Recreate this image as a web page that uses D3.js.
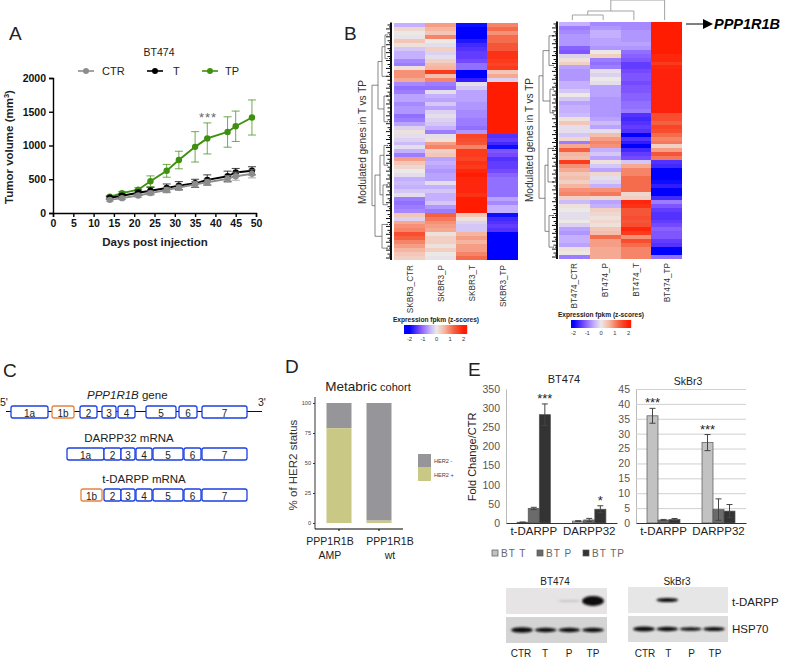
<!DOCTYPE html>
<html>
<head>
<meta charset="utf-8">
<script src="https://cdn.jsdelivr.net/npm/d3@7"></script>
<style>
body { margin: 0; background: #fff; }
svg { display: block; font-family: "Liberation Sans", Arial, sans-serif; fill: #222; }
</style>
</head>
<body>
<svg></svg>
<script>
// panel A, tumor growth
let days = [14, 17, 21, 24, 28, 31, 35, 38, 43, 45, 49]
let ctrVolume = [195, 220, 260, 295, 340, 375, 425, 455, 505, 545, 580]
let ctrError = [20, 20, 25, 30, 40, 40, 40, 45, 50, 60, 60]
let tVolume = [225, 255, 300, 330, 370, 405, 440, 490, 545, 600, 625]
let tError = [20, 25, 40, 50, 60, 60, 60, 75, 75, 60, 60]
let tpVolume = [240, 295, 345, 470, 625, 785, 980, 1105, 1200, 1285, 1415]
let tpError = [20, 20, 30, 80, 95, 130, 225, 230, 225, 225, 260]

// panel B, z-scores per gene row
let skbrColumns = ['SKBR3_CTR', 'SKBR3_P', 'SKBR3_T', 'SKBR3_TP']
let skbrCtr = [-0.5, 0.2, 0, -0.05, 0.4, 0.1, -0.3, -0.5, -0.5, -0.8, -0.9, 0.1, 0.9, 0.9, 0.7, -0.8, -1, -0.9, -0.6, -0.6, -0.8, -0.7, -0.7, -1, -0.9, -0.6, -0.2, 0.1, -0.1, -0.2, -0.4, -0.1, -0.5, -0.9, 0.8, 0.4, 0.2, 0, -0.1, -0.5, -0.4, -0.5, -0.3, -0.1, -0.9, -1, -0.9, -0.8, 0.4, -0.2, 0.7, 0.9, 1, 1.5, 1.3, 1, 0.8, 0.6, 0.4, 0.3]
let skbrP = [0.8, 0.6, 0.4, 1, 0, -0.1, 0.3, -0.2, -0.1, 0.3, 0.5, 0.6, 1.7, 0.5, 1, -0.9, -1, -0.1, -0.5, -0.6, -0.3, -0.6, -0.2, -0.1, -0.2, -0.3, -0.5, -0.9, -0.1, 0.1, 0.8, 1, 0.3, 0.4, -0.6, -0.5, -0.6, -0.7, -0.6, -0.6, -0.1, -0.5, -0.3, -0.5, -0.5, -0.3, -0.7, -0.9, 1.3, 1.1, 0.9, 0.8, 0.7, 0.1, 0.3, 0.3, 0.1, 0.3, 0, -0.05]
let skbrT = [-1.9, -2, -2, -2, -1.8, -1.6, -1.5, -1.4, -1.4, -1.3, -1, -1, -2, -2, -1.7, -0.1, -0.3, -0.6, -0.6, -0.6, -0.7, -0.7, -0.8, -0.8, -0.9, -0.9, -1, -0.7, 1.6, 1.5, 1.4, 1, 1.7, 1.7, 1.6, 1.8, 1.7, 1.9, 2, 1.9, 1.9, 1.9, 1.9, 1.8, 2, 2, 2, 2, 0.4, 0.1, -0.2, -0.3, -0.3, 0.6, 0.8, 0.6, 0.8, 0.8, 1, 1.2]
let skbrTp = [1, 1.2, 0.9, 1.2, 1.2, 1.4, 1.4, 1.8, 1.8, 1.7, 1.6, 1.7, 0.4, 0.7, -0.2, 2, 2, 2, 2, 2, 2, 2, 2, 2, 2, 2, 2, 2, -1.5, -1.4, -1.6, -1.9, -1.2, -1.3, -1.5, -1.4, -1.4, -1.3, -1.1, -1, -1, -1, -1, -1, -0.6, -0.8, -0.5, -0.5, -1.9, -1.6, -1.5, -1.4, -1.5, -2, -2, -2, -2, -2, -2, -2]
let btColumns = ['BT474_CTR', 'BT474_P', 'BT474_T', 'BT474_TP']
let btCtr = [-0.5, -0.9, -0.8, -0.7, -0.7, -0.7, -1.1, -1.2, -0.2, 0.1, 0.3, -0.6, -0.7, -0.7, -0.7, -0.5, -0.5, -0.3, 0, -0.3, -0.6, -0.5, -0.5, -0.4, 0.1, 0.4, -0.1, -0.1, -0.3, 0.2, -0.9, 0.7, 1.3, 0.6, 0.5, 1.7, 0.9, 0.7, 0.4, 0.5, 0.3, 0.6, 0.9, 1, 0.3, -0.4, 0.1, 0, -0.1, -0.1, 0, -0.2, -0.6, -0.7, -0.5, -0.5, -0.6, 0.1, 0, -0.9]
let btP = [-0.8, -0.7, -0.5, -0.5, -0.6, -0.6, -0.7, 0, 0.3, -0.9, -1, -0.9, -0.1, -0.2, 0, -0.1, -0.6, -0.6, -0.6, -0.7, -0.7, -0.7, -0.7, -0.7, -0.6, -0.4, -0.6, -0.1, 0.5, 0.8, 1, 0.9, -0.5, -0.3, -0.6, 0.1, -0.3, -0.6, 0.2, -0.1, -0.2, -0.5, 0.9, 1.1, 0.2, -0.6, -0.5, 0.3, 0.2, 0.1, 0.2, 0.1, 0.4, 0.5, 1.2, 0.8, 0.8, 0.7, 0.7, 0.7]
let btT = [-0.8, -0.8, -0.7, -0.7, -0.7, -0.6, -0.7, -1, -1.1, -1.2, -1.4, -1.4, -1.3, -1.2, -1.2, -1.3, -1.2, -1.2, -1.1, -1.1, -1, -1, -0.9, -1.5, -1.6, -1.5, -1.4, -1.5, -2, -1.5, -1.7, -2, -1.6, -1.4, -1.3, -0.3, 0.7, 1, 1, 1.2, 1.2, 1.2, 1.2, 0.2, 0.3, 1.9, 1.8, 1.4, 1.4, 1.5, 1.4, 1.5, 1.9, 1.7, 0.9, 1.5, 1.2, 1, 1, 1]
let btTp = [2, 2, 2, 2, 2, 2, 2, 2, 1.9, 1.9, 1.7, 1.9, 1.95, 1.95, 1.95, 1.95, 1.95, 1.95, 1.95, 1.95, 1.95, 1.95, 1.95, 1.5, 1.5, 1.3, 1.6, 1.5, 1.2, 1, 1.1, 0.3, 0.8, 1.4, 1.1, -1.5, -1.6, -2, -2, -2, -1.9, -1.7, -2, -2, -1.6, -0.9, -1.2, -1.4, -1.5, -1.5, -1.4, -1.3, -1.1, -1.2, -1.2, -1.4, -1.5, -2, -2, -1]
let zStops = [-2, -1.3, -0.5, 0, 0.6, 1.3, 2]
let zColors = ['#0000ff', '#7448ff', '#c4b0ff', '#ece8e6', '#f6b5a0', '#f56040', '#ff1e05']
let zTicks = [-2, -1, 0, 1, 2]
// dendrograms: [merge height, child, child], a bare number is a run of rows
let skbrTree = [20, [14, [10, [7, 6, 6], 3], [8, [5, 7], [5, 6]]], [17, [12, [8, [5, 6], [5, 4]], [9, [6, 6], 4]], [10, [6, 6], [6, 6]]]]
let btTree = [19, [15, [9, [6, 7], [5, 8]], [8, [5, 4], [6, 8]]], [13, [10, [6, 10], [5, 7]], [9, [6, 10], [5, 6]]]]
let btColumnTree = [20, [9, [5, 'BT474_CTR', 'BT474_P'], 'BT474_T'], 'BT474_TP']

// panel C, exon extents along the schematic
let geneExons = [['1a', 11, 48, 0], ['1b', 52, 74, 1], ['2', 80, 97, 0], ['3', 102, 116, 0], ['4', 118, 135, 0], ['5', 146, 176, 0], ['6', 179, 197, 0], ['7', 202, 247, 0]]
let darppExons = [['1a', 67, 104, 0], ['2', 104, 121, 0], ['3', 121, 135, 0], ['4', 136, 152, 0], ['5', 153, 183, 0], ['6', 184, 201, 0], ['7', 202, 247, 0]]
let tDarppExons = [['1b', 81, 102, 1], ['2', 104, 121, 0], ['3', 121, 135, 0], ['4', 136, 152, 0], ['5', 153, 183, 0], ['6', 184, 201, 0], ['7', 202, 247, 0]]

// panel D
let cohortGroups = ['AMP', 'wt']
let her2Positive = [79, 2]
let her2Negative = [21, 98]

// panel E
let qpcrGroups = ['t-DARPP', 'DARPP32']
let qpcrSeries = ['T', 'P', 'TP']
let qpcrLegend = ['BT T', 'BT P', 'BT TP']
let btFold = [[2, 38, 283], [5, 8, 36]]
let btFoldError = [[0.5, 3, 28], [1, 4, 9]]
let skFold = [[36, 1, 1.2], [27, 4.5, 4]]
let skFoldError = [[2.5, 0.2, 0.3], [2.7, 3.6, 2.2]]

// blots, band strength per lane
let lanes = ['CTR', 'T', 'P', 'TP']
let btTDarpp = [0, 0, 1.2, 10]
let btHsp = [5.5, 4.5, 4.5, 4.5]
let skTDarpp = [0, 4, 0, 0]
let skHsp = [5, 4.5, 3.5, 4]

let width = 785
let height = 660
let svg = d3.select('svg')
    .attr('width', width)
    .attr('height', height)
    .attr('viewBox', [0, 0, width, height])

let defs = svg.append('defs')
defs.append('filter').attr('id', 'soft').append('feGaussianBlur').attr('stdDeviation', 0.45)
defs.append('filter').attr('id', 'band')
    .attr('x', '-30%').attr('y', '-100%').attr('width', '160%').attr('height', '300%')
    .append('feGaussianBlur').attr('stdDeviation', 0.9)

function label(x, y, text, size, extra) {
    return svg.append('text')
        .attr('x', x).attr('y', y)
        .attr('font-size', size)
        .attr('text-anchor', (extra && extra.anchor) || 'middle')
        .attr('font-weight', (extra && extra.weight) || null)
        .attr('fill', (extra && extra.fill) || '#222')
        .attr('transform', extra && extra.rotate ? `rotate(-90 ${x} ${y})` : null)
        .text(text)
}

// panel letters
label(9, 40, 'A', 19, { anchor: 'start' })
label(344, 40, 'B', 19, { anchor: 'start' })
label(3, 377, 'C', 19, { anchor: 'start' })
label(285, 373, 'D', 19, { anchor: 'start' })
label(468, 376, 'E', 19, { anchor: 'start' })

// --- A ---
let growthX = d3.scaleLinear().domain([0, 50]).range([53, 256])
let growthY = d3.scaleLinear().domain([0, 2000]).range([213, 78])
let growthLine = d3.line().x(d => growthX(d[0])).y(d => growthY(d[1]))
let growthSeries = [
    { name: 'TP', color: '#3f8f10', values: tpVolume, errors: tpError },
    { name: 'T', color: '#000', values: tVolume, errors: tError },
    { name: 'CTR', color: '#8c8c8c', values: ctrVolume, errors: ctrError }
]
let growthAxisX = svg.append('g')
    .attr('transform', 'translate(0,213)')
    .call(d3.axisBottom(growthX).tickValues(d3.range(0, 51, 5)).tickSize(4).tickPadding(3))
let growthAxisY = svg.append('g')
    .attr('transform', 'translate(53,0)')
    .call(d3.axisLeft(growthY).tickValues(d3.range(0, 2001, 500)).tickSize(4).tickPadding(3).tickFormat(d3.format('d')))
;[growthAxisX, growthAxisY].forEach(axis => {
    axis.selectAll('path, line').attr('stroke', '#000').attr('stroke-width', 1.4)
    axis.selectAll('text').attr('font-size', 10.5).attr('font-weight', 'bold').attr('font-family', 'Liberation Sans').attr('fill', '#111')
})
growthSeries.forEach(s => {
    let g = svg.append('g')
    let rows = days.map((d, i) => [d, s.values[i], s.errors[i]])
    g.selectAll('.err').data(rows).enter().append('path')
        .attr('d', d => `M${growthX(d[0]) - 4},${growthY(d[1] + d[2])}h8M${growthX(d[0])},${growthY(d[1] + d[2])}V${growthY(d[1] - d[2])}M${growthX(d[0]) - 4},${growthY(d[1] - d[2])}h8`)
        .attr('stroke', s.color).attr('stroke-width', 1).attr('fill', 'none').attr('opacity', 0.75)
    g.append('path').attr('d', growthLine(rows))
        .attr('stroke', s.color).attr('stroke-width', 1.9).attr('fill', 'none')
    g.selectAll('circle').data(rows).enter().append('circle')
        .attr('cx', d => growthX(d[0])).attr('cy', d => growthY(d[1]))
        .attr('r', 3.2).attr('fill', s.color)
})
label(159, 56, 'BT474', 10.5)
let growthLegend = [['CTR', '#8c8c8c', 78, 102], ['T', '#000', 147, 173], ['TP', '#3f8f10', 202, 225]]
growthLegend.forEach(d => {
    svg.append('line').attr('x1', d[2]).attr('x2', d[2] + 16).attr('y1', 71).attr('y2', 71)
        .attr('stroke', d[1]).attr('stroke-width', 1.6)
    svg.append('circle').attr('cx', d[2] + 8).attr('cy', 71).attr('r', 3).attr('fill', d[1])
    label(d[3], 75, d[0], 11, { anchor: 'start' })
})
label(208, 122, '***', 13, { fill: '#666' }).attr('letter-spacing', 1)
label(155, 246, 'Days post injection', 11.5, { weight: 'bold' })
let tumorLabel = label(13, 147, 'Tumor volume (mm', 11.5, { weight: 'bold', rotate: true })
tumorLabel.append('tspan').attr('font-size', 7.5).attr('dy', -4).text('3')
tumorLabel.append('tspan').attr('dy', 4).text(')')

// --- B ---
function drawDendrogram(tree, rowY, x0, x1, maxH) {
    let xAt = d3.scaleLinear().domain([0, maxH]).range([x0, x1])
    let root = d3.hierarchy(tree, d => Array.isArray(d) ? d.slice(1) : null)
    let offset = 0
    root.leaves().forEach(node => {
        node.first = offset
        offset += node.data
        node.rowMid = (rowY(node.first) + rowY(offset - 1) + rowY.bandwidth()) / 2
        node.h = 4
    })
    root.eachAfter(node => {
        if (node.children) {
            node.rowMid = (node.children[0].rowMid + node.children[node.children.length - 1].rowMid) / 2
            node.h = node.data[0]
        }
    })
    let g = svg.append('g').attr('fill', 'none')
    g.selectAll('path.branch').data(root.descendants().filter(d => d.children)).enter()
        .append('path').attr('class', 'branch')
        .attr('stroke', '#555').attr('stroke-width', 0.7)
        .attr('d', d => {
            let a = d.children[0]
            let b = d.children[d.children.length - 1]
            return `M${xAt(a.h)},${a.rowMid}H${xAt(d.h)}V${b.rowMid}H${xAt(b.h)}`
        })
    let comb = [1, 3.5, 2, 5]
    root.leaves().forEach(node => {
        let top = rowY(node.first)
        let bottom = rowY(node.first + node.data - 1) + rowY.bandwidth()
        g.append('path').attr('stroke', '#111').attr('stroke-width', 2)
            .attr('d', `M${xAt(1)},${top}V${bottom}`)
        d3.range(node.first, node.first + node.data, 0.5).forEach((r, i) => {
            let y = rowY(Math.floor(r)) + (r % 1) * rowY.bandwidth()
            g.append('path').attr('stroke', '#111').attr('stroke-width', 1)
                .attr('d', `M${xAt(1 + comb[i % 4])},${y}H${x0}`)
        })
    })
}

let zColor = d3.scaleLinear().domain(zStops).range(zColors)

function drawHeatmap(columns, values, x0, x1, y0, y1, tree, treeX0, treeX1, treeMax) {
    let colX = d3.scaleBand().domain(columns).range([x0, x1])
    let rowY = d3.scaleBand().domain(d3.range(values[0].length)).range([y0, y1])
    let g = svg.append('g').attr('filter', 'url(#soft)')
    columns.forEach((c, i) => {
        g.selectAll(null).data(values[i]).enter().append('rect')
            .attr('x', colX(c)).attr('width', colX.bandwidth())
            .attr('y', (d, r) => rowY(r)).attr('height', rowY.bandwidth())
            .attr('fill', d => zColor(d))
            .attr('shape-rendering', 'crispEdges')
    })
    drawDendrogram(tree, rowY, treeX0, treeX1, treeMax)
    return colX
}

function drawZLegend(titleX, titleY, tickX0, tickX1, barX0, barX1, barY, barH) {
    let x = d3.scaleLinear().domain([-2, 2]).range([tickX0, tickX1])
    label(titleX, titleY, 'Expression fpkm (z-scores)', 6.6, { weight: 'bold' })
    let steps = d3.range(barX0, barX1)
    svg.append('g').selectAll('rect').data(steps).enter().append('rect')
        .attr('x', d => d).attr('y', barY).attr('width', 1.2).attr('height', barH)
        .attr('fill', d => zColor(Math.max(-2, Math.min(2, x.invert(d)))))
    svg.append('g')
        .attr('transform', `translate(0,${barY + barH})`)
        .call(d3.axisBottom(x).tickValues(zTicks).tickSize(0).tickPadding(3).tickFormat(d => d))
        .call(a => a.select('.domain').remove())
        .call(a => a.selectAll('text').attr('font-size', 5.8).attr('font-family', 'Liberation Sans').attr('fill', '#333'))
}

let skbrX = drawHeatmap(skbrColumns, [skbrCtr, skbrP, skbrT, skbrTp], 394, 518, 23, 260, skbrTree, 392, 372, 20)
let btX = drawHeatmap(btColumns, [btCtr, btP, btT, btTp], 559, 682, 22, 259, btTree, 558, 539, 19)
skbrColumns.forEach(c => {
    label(skbrX(c) + skbrX.bandwidth() / 2 + 3, 265, c, 8.2, { anchor: 'end', rotate: true, fill: '#333' })
})
btColumns.forEach(c => {
    label(btX(c) + btX.bandwidth() / 2 + 3, 263, c, 8.2, { anchor: 'end', rotate: true, fill: '#333' })
})
label(366, 142, 'Modulated genes in T vs TP', 10, { rotate: true, fill: '#333' })
label(533, 140, 'Modulated genes in T vs TP', 10, { rotate: true, fill: '#333' })
drawZLegend(436, 322, 409, 463, 404, 467, 325, 9)
drawZLegend(601, 317, 573, 628, 571, 631, 320, 8)

// column dendrogram over BT474
let columnRoot = d3.hierarchy(btColumnTree, d => Array.isArray(d) ? d.slice(1) : null)
let columnY = d3.scaleLinear().domain([0, 20]).range([20, 0])
columnRoot.eachAfter(node => {
    if (node.children) {
        node.mid = (node.children[0].mid + node.children[1].mid) / 2
        node.h = node.data[0]
    } else {
        node.mid = btX(node.data) + btX.bandwidth() / 2 - 2
        node.h = 0
    }
})
svg.append('g').selectAll('path').data(columnRoot.descendants().filter(d => d.children)).enter()
    .append('path')
    .attr('fill', 'none').attr('stroke', '#999').attr('stroke-width', 0.9)
    .attr('d', d => {
        let [a, b] = d.children
        return `M${a.mid},${columnY(a.h)}V${columnY(d.h)}H${b.mid}V${columnY(b.h)}`
    })
svg.append('path').attr('d', 'M686,24H704').attr('stroke', '#000').attr('stroke-width', 1)
svg.append('path').attr('d', 'M703,19L713,24L703,29Z').attr('fill', '#000')
label(714, 29, 'PPP1R1B', 14.5, { anchor: 'start', weight: 'bold' }).attr('font-style', 'italic').attr('fill', '#000')

// --- C ---
let geneX = d3.scaleLinear().domain([0, 262]).range([0, 262])
function drawExons(exons, top) {
    let g = svg.append('g')
    g.selectAll('rect').data(exons).enter().append('rect')
        .attr('x', d => geneX(d[1])).attr('width', d => geneX(d[2]) - geneX(d[1]))
        .attr('y', top).attr('height', 12).attr('rx', 2)
        .attr('fill', '#fff')
        .attr('stroke', d => d[3] ? '#e8823c' : '#1c3fe0').attr('stroke-width', 1.3)
    g.selectAll('text').data(exons).enter().append('text')
        .attr('x', d => (geneX(d[1]) + geneX(d[2])) / 2).attr('y', top + 10.5)
        .attr('text-anchor', 'middle').attr('font-size', 10).attr('fill', '#222')
        .text(d => d[0])
}
svg.append('line').attr('x1', geneX(6)).attr('x2', geneX(262)).attr('y1', 411.5).attr('y2', 411.5)
    .attr('stroke', '#111').attr('stroke-width', 1.2)
drawExons(geneExons, 406)
drawExons(darppExons, 448)
drawExons(tDarppExons, 489)
let geneTitle = label(87, 399, null, 11.5, { anchor: 'start' })
geneTitle.append('tspan').attr('font-style', 'italic').text('PPP1R1B')
geneTitle.append('tspan').text(' gene')
label(129, 442, 'DARPP32 mRNA', 11.5)
label(144, 483, 't-DARPP mRNA', 11.5)
label(0, 406, "5'", 10.5, { anchor: 'start' })
label(258, 406, "3'", 10.5, { anchor: 'start' })

// --- D ---
let cohortX = d3.scaleBand().domain(cohortGroups).range([315, 403]).paddingInner(0.375).paddingOuter(0.2875)
let cohortY = d3.scaleLinear().domain([0, 100]).range([523, 403])
cohortGroups.forEach((c, i) => {
    svg.append('rect').attr('x', cohortX(c)).attr('width', cohortX.bandwidth())
        .attr('y', cohortY(her2Positive[i] + her2Negative[i]))
        .attr('height', cohortY(her2Positive[i]) - cohortY(100))
        .attr('fill', '#96969a')
    svg.append('rect').attr('x', cohortX(c)).attr('width', cohortX.bandwidth())
        .attr('y', cohortY(her2Positive[i]))
        .attr('height', cohortY(0) - cohortY(her2Positive[i]))
        .attr('fill', '#c9c884')
})
let cohortAxisY = svg.append('g').attr('transform', 'translate(315,0)')
    .call(d3.axisLeft(cohortY).tickValues([0, 25, 50, 75, 100]).tickSize(2).tickPadding(2))
cohortAxisY.select('.domain').attr('d', 'M0,397V529')
cohortAxisY.selectAll('text').attr('font-size', 5.6).attr('font-family', 'Liberation Sans').attr('fill', '#444')
svg.append('g').attr('transform', 'translate(0,529)')
    .call(d3.axisBottom(cohortX).tickSize(2).tickFormat(''))
    .call(a => a.select('.domain').attr('d', 'M315,0H403'))
cohortAxisY.selectAll('path, line').attr('stroke', '#333')
let cohortTitle = label(368, 391, 'Metabric', 13.5)
cohortTitle.append('tspan').attr('font-size', 11).text(' cohort')
// the names sit wider apart than the bars
cohortGroups.forEach((c, i) => {
    let nudge = i === 0 ? -9 : 11
    label(cohortX(c) + cohortX.bandwidth() / 2 + nudge, 545, 'PPP1R1B', 10.5)
    label(cohortX(c) + cohortX.bandwidth() / 2 + nudge, 559, c, 10.5)
})
label(297, 465, '% of HER2 status', 11.5, { rotate: true, fill: '#333' })
svg.append('rect').attr('x', 418).attr('y', 454).attr('width', 13).attr('height', 13).attr('fill', '#96969a')
svg.append('rect').attr('x', 418).attr('y', 467).attr('width', 13).attr('height', 14).attr('fill', '#c9c884')
label(434, 463, 'HER2 -', 5.6, { anchor: 'start', fill: '#444' })
label(434, 477, 'HER2 +', 5.6, { anchor: 'start', fill: '#444' })

// --- E ---
let seriesColor = d3.scaleOrdinal().domain(qpcrSeries).range(['#c2c2c2', '#6b6b6b', '#333'])

function drawFoldChart(x0, x1, yMax, tickStep, fold, errors, stars, grid) {
    let groupX = d3.scaleBand().domain(qpcrGroups).range([x0, x1])
    let barX = d3.scaleBand().domain(qpcrSeries).range([0, groupX.bandwidth()]).paddingInner(0).paddingOuter(1)
    let y = d3.scaleLinear().domain([0, yMax]).range([523, 389])
    let axisY = svg.append('g').attr('transform', `translate(${x0},0)`)
        .call(d3.axisLeft(y).tickValues(d3.range(0, yMax + 1, tickStep)).tickSize(grid ? -(x1 - x0) : 0).tickPadding(6))
    axisY.selectAll('text').attr('font-size', 10.5).attr('font-family', 'Liberation Sans').attr('fill', '#555')
    axisY.selectAll('line').attr('stroke', '#d0d0d0').attr('stroke-width', 1)
    axisY.select('.domain').attr('stroke', '#bbb')
    qpcrGroups.forEach((group, i) => {
        let g = svg.append('g').attr('transform', `translate(${groupX(group)},0)`)
        g.selectAll('rect').data(qpcrSeries).enter().append('rect')
            .attr('x', d => barX(d)).attr('width', barX.bandwidth())
            .attr('y', (d, j) => y(fold[i][j])).attr('height', (d, j) => y(0) - y(fold[i][j]))
            .attr('fill', d => seriesColor(d)).attr('stroke', '#555').attr('stroke-width', 0.7)
        g.selectAll('path').data(qpcrSeries).enter().append('path')
            .attr('fill', 'none').attr('stroke', '#444').attr('stroke-width', 1)
            .attr('d', (d, j) => {
                let cx = barX(d) + barX.bandwidth() / 2
                let up = y(fold[i][j] + errors[i][j])
                let low = y(Math.max(0, fold[i][j] - errors[i][j]))
                return `M${cx - 3},${up}h6M${cx},${up}V${low}M${cx - 3},${low}h6`
            })
    })
    svg.append('g').attr('transform', 'translate(0,523)')
        .call(d3.axisBottom(groupX).tickSize(0).tickPadding(4))
        .call(a => a.select('.domain').attr('stroke', '#333'))
        .call(a => a.selectAll('text').attr('font-size', 11.5).attr('font-family', 'Liberation Sans').attr('fill', '#222'))
    stars.forEach(s => {
        let i = qpcrGroups.indexOf(s[0])
        let j = qpcrSeries.indexOf(s[1])
        let cx = groupX(s[0]) + barX(s[1]) + barX.bandwidth() / 2
        label(cx, y(fold[i][j] + errors[i][j]) - 1, s[2], 13)
    })
}
drawFoldChart(506, 617, 350, 50, btFold, btFoldError, [['t-DARPP', 'TP', '***'], ['DARPP32', 'TP', '*']], false)
drawFoldChart(636, 746, 45, 5, skFold, skFoldError, [['t-DARPP', 'T', '***'], ['DARPP32', 'T', '***']], true)
label(564, 383, 'BT474', 11)
label(688, 385, 'SkBr3', 10.5)
label(476, 457, 'Fold Change/CTR', 11, { rotate: true })
let legendX = d3.scaleOrdinal().domain(qpcrSeries).range([492, 537, 583])
qpcrSeries.forEach((s, i) => {
    svg.append('rect').attr('x', legendX(s)).attr('y', 550).attr('width', 6).attr('height', 6)
        .attr('fill', seriesColor(s)).attr('stroke', '#555').attr('stroke-width', 0.7)
    label(legendX(s) + 9, 557, qpcrLegend[i], 10, { anchor: 'start', fill: '#666' }).attr('letter-spacing', 1)
})

// blots
function drawBlot(x0, x1, y0, y1, bands, background) {
    let laneX = d3.scalePoint().domain(lanes).range([x0 + 16, x1 - 14])
    svg.append('rect').attr('x', x0).attr('y', y0).attr('width', x1 - x0).attr('height', y1 - y0).attr('fill', background)
    let g = svg.append('g').attr('filter', 'url(#band)')
    g.selectAll('ellipse').data(lanes).enter().append('ellipse')
        .attr('cx', d => laneX(d))
        .attr('cy', (y0 + y1) / 2)
        .attr('rx', (d, i) => bands[i] > 0 ? 11 : 0)
        .attr('ry', (d, i) => bands[i] / 2)
        .attr('fill', (d, i) => bands[i] < 2 ? '#aaa' : '#111')
}
drawBlot(506, 607, 588, 614, btTDarpp, '#e6e4e4')
drawBlot(506, 607, 617, 643, btHsp, '#d4d4d4')
drawBlot(628, 728, 587, 613, skTDarpp, '#e6e6e6')
drawBlot(628, 728, 616, 642, skHsp, '#dcdcdc')
label(555, 585, 'BT474', 10)
label(677, 585, 'SkBr3', 10)
label(732, 606, 't-DARPP', 11.5, { anchor: 'start' })
label(732, 633, 'HSP70', 11.5, { anchor: 'start' })
let blotLabelsLeft = d3.scalePoint().domain(lanes).range([521, 593])
let blotLabelsRight = d3.scalePoint().domain(lanes).range([645, 715])
lanes.forEach(l => {
    label(blotLabelsLeft(l), 657, l, 10)
    label(blotLabelsRight(l), 657, l, 10)
})
</script>
</body>
</html>
